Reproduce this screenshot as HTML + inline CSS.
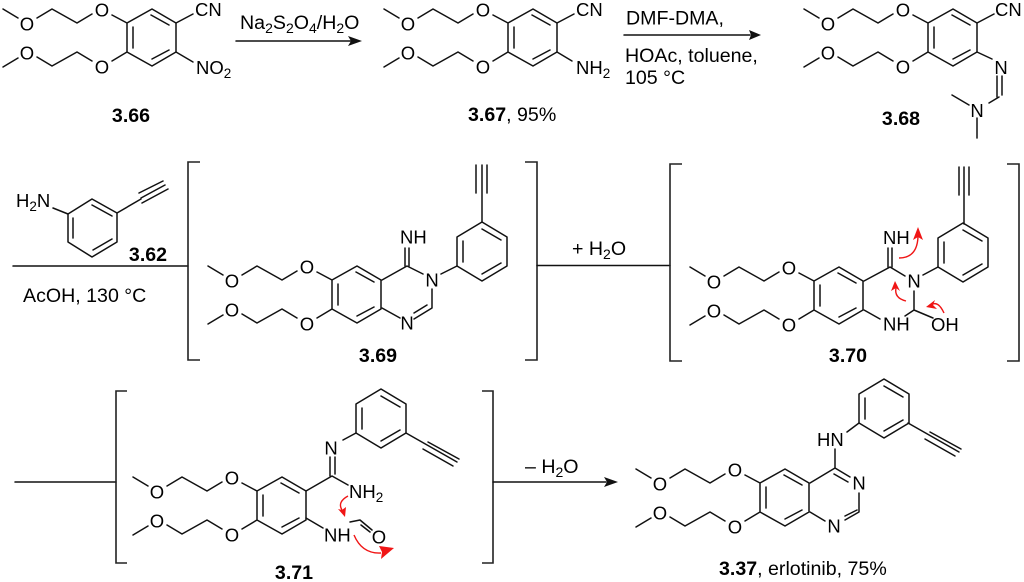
<!DOCTYPE html>
<html>
<head>
<meta charset="utf-8">
<style>
html,body{margin:0;padding:0;background:#fff;}
svg{display:block;}
text{font-family:"Liberation Sans",Arial,sans-serif;font-size:18.5px;fill:#000;}
.m{text-anchor:middle;}
.b{font-weight:bold;font-size:19.6px;}
.t{font-size:19.6px;}
.s{stroke:#111;stroke-width:1.5;fill:none;stroke-linecap:round;stroke-linejoin:round;}
.br{stroke:#222;stroke-width:1.6;fill:none;}
.r{stroke:#f01515;stroke-width:1.4;fill:none;}
</style>
</head>
<body>
<svg width="1024" height="582" viewBox="0 0 1024 582" xmlns="http://www.w3.org/2000/svg">
<defs>
<path id="core" d="M3,9L18,18M37,18L52,9L77,23L92,14M112,15L127,23L152,9L176,23L176,52L152,66L127,52L127,23M133,27L133,48M151,15L169,25M152,59L169,50M127,52L112,61M92,61L77,52L52,66L37,57M18,58L3,67"/>
<path id="ar" d="M0,0L0,-29L25,-44L50,-29L50,0L25,15ZM6,-4L6,-25M25,-37L44,-26M25,8L44,-3"/>
</defs>

<!-- 3.66 -->
<use href="#core" class="s"/>
<path class="s" d="M176,23L193,14M176,52L193,62"/>
<text class="m" x="102" y="16.5">O</text><text class="m" x="27" y="30.5">O</text>
<text class="m" x="102" y="73.5">O</text><text class="m" x="27" y="59.5">O</text>
<text x="195" y="16">CN</text>
<text x="196" y="74">NO<tspan font-size="13.5" dy="4">2</tspan></text>
<text class="m b" x="131" y="122">3.66</text>

<!-- arrow 1 -->
<path class="s" d="M236,41L352,41"/><path d="M362,41L348,36L351,41L348,46Z" fill="#111"/>
<text class="t" x="240" y="29">Na<tspan font-size="14" dy="4">2</tspan><tspan dy="-4">S</tspan><tspan font-size="14" dy="4">2</tspan><tspan dy="-4">O</tspan><tspan font-size="14" dy="4">4</tspan><tspan dy="-4">/H</tspan><tspan font-size="14" dy="4">2</tspan><tspan dy="-4">O</tspan></text>

<!-- 3.67 -->
<g transform="translate(381,0)">
<use href="#core" class="s"/>
<path class="s" d="M176,23L193,14M176,52L191,61"/>
<text class="m" x="102" y="16.5">O</text><text class="m" x="27" y="30.5">O</text>
<text class="m" x="102" y="73.5">O</text><text class="m" x="27" y="59.5">O</text>
<text x="195" y="16">CN</text>
<text x="195" y="74">NH<tspan font-size="13.5" dy="4">2</tspan></text>
</g>
<text x="468" y="121" class="t"><tspan font-weight="bold">3.67</tspan>, 95%</text>

<!-- arrow 2 -->
<path class="s" d="M624,35L750,35"/><path d="M761,35L749,30L751,35L749,40Z" fill="#111"/>
<text class="t" x="626" y="24.5">DMF-DMA,</text>
<text class="t" x="625" y="62">HOAc, toluene,</text>
<text class="t" x="625" y="84">105 °C</text>

<!-- 3.68 -->
<g transform="translate(801,0)">
<use href="#core" class="s"/>
<path class="s" d="M176,23L193,14M176,52L191,59M196,76L196,97M201,76L201,95M198,97L188,103M168,105L151,95M176,118L176,138"/>
<text class="m" x="102" y="16.5">O</text><text class="m" x="27" y="30.5">O</text>
<text class="m" x="102" y="73.5">O</text><text class="m" x="27" y="59.5">O</text>
<text x="194" y="16">CN</text>
<text class="m" x="200" y="74">N</text>
<text class="m" x="176" y="117">N</text>
</g>
<text class="m b" x="901" y="125">3.68</text>

<!-- 3.62 -->
<text x="16" y="207">H<tspan font-size="13.5" dy="4">2</tspan><tspan dy="-4">N</tspan></text>
<path class="s" d="M53,208L68,214M117,213L141,199M139,193L163,181M141,198L165,185M142,203L168,189"/>
<path class="s" d="M68,214L92,199L117,213L117,242L92,257L68,242ZM73,218L73,238M92,205L112,216M93,250L112,239"/>
<text class="m b" x="148" y="261">3.62</text>
<path class="s" d="M13,266L188,266"/>
<text class="t" x="23" y="302">AcOH, 130 °C</text>

<!-- bracket 1 -->
<path class="br" d="M200,162L188,162L188,360L200,360"/>
<path class="br" d="M525,162L537,162L537,360L525,360"/>

<!-- 3.69 -->
<g transform="translate(205,257)">
<use href="#core" class="s"/>
<text class="m" x="102" y="16.5">O</text><text class="m" x="27" y="30.5">O</text>
<text class="m" x="102" y="73.5">O</text><text class="m" x="27" y="59.5">O</text>
</g>
<path class="s" d="M382,280L407,266L423,274M405,266L405,248M409,266L409,248M432,289L432,308L414,319M427,305L414,313M382,308L400,318M441,274L457,266"/>
<g transform="translate(457,266)"><use href="#ar" class="s"/></g>
<path class="s" d="M482,222L482,193M482,193L482,165M476,193L476,165M487,193L487,165"/>
<text x="400" y="243.5">NH</text>
<text class="m" x="432" y="286.5">N</text>
<text class="m" x="407" y="329.5">N</text>
<text class="m b" x="378" y="362">3.69</text>

<!-- + H2O -->
<path class="s" d="M537,265.5L670,265.5"/>
<text class="t" x="572" y="255">+ H<tspan font-size="14" dy="4">2</tspan><tspan dy="-4">O</tspan></text>

<!-- bracket 2 -->
<path class="br" d="M682,164L670,164L670,361L682,361"/>
<path class="br" d="M1007,164L1019,164L1019,361L1007,361"/>

<!-- 3.70 -->
<g transform="translate(687,258)">
<use href="#core" class="s"/>
<text class="m" x="102" y="16.5">O</text><text class="m" x="27" y="30.5">O</text>
<text class="m" x="102" y="73.5">O</text><text class="m" x="27" y="59.5">O</text>
</g>
<path class="s" d="M864,281L890,267L905,276M888,267L888,248M892,267L892,248M914,291L914,310L905,316M933,318L914,310M864,310L880,319M923,275L938,267"/>
<g transform="translate(938,267)"><use href="#ar" class="s"/></g>
<path class="s" d="M964,224L964,195M964,195L964,167M959,195L959,167M969,195L969,167"/>
<text x="883" y="244">NH</text>
<text class="m" x="914" y="287.5">N</text>
<text x="883" y="330.5">NH</text>
<text x="931" y="331">OH</text>
<text class="m b" x="848" y="362">3.70</text>
<!-- red arrows 3.70 -->
<path class="r" d="M899,258Q917,258 918,237"/><path d="M918,227L913,240L918,237L923,240Z" fill="#f01515"/>
<path class="r" d="M906,301Q894,298 896,288"/><path d="M895,281L891,291L896,288L900,291Z" fill="#f01515"/>
<path class="r" d="M944,313Q938,300 931,305"/><path d="M926,307L935,300L933,305L937,309Z" fill="#f01515"/>

<!-- line to row 3 -->
<path class="s" d="M15,482L116,482"/>
<!-- bracket 3 -->
<path class="br" d="M127,391L116,391L116,563L127,563"/>
<path class="br" d="M482,391L493,391L493,563L482,563"/>

<!-- 3.71 -->
<g transform="translate(130,468)">
<use href="#core" class="s"/>
<text class="m" x="102" y="16.5">O</text><text class="m" x="27" y="30.5">O</text>
<text class="m" x="102" y="73.5">O</text><text class="m" x="27" y="59.5">O</text>
</g>
<path class="s" d="M306,491L332,476L348,485M330,476L330,457M335,474L335,457M343,440L356,433M306,518L323,528M350,522L360,520L372,530M361,525L370,532"/>
<g transform="translate(356,433)"><use href="#ar" class="s"/></g>
<path class="s" d="M406,433L457,462M428,442L459,459M423,449L453,466"/>
<text class="m" x="331" y="454.5">N</text>
<text x="349" y="498">NH<tspan font-size="13.5" dy="4">2</tspan></text>
<text x="324" y="541.5">NH</text>
<text class="m" x="379" y="543.5">O</text>
<text class="m b" x="294" y="579">3.71</text>
<!-- red arrows 3.71 -->
<path class="r" d="M348,496Q337,502 342,510"/><path d="M345,517L346,507L342,510L338,509Z" fill="#f01515"/>
<path class="r" d="M354,535Q362,554 381,553"/><path d="M394,548L379,546L382,552L381,559Z" fill="#f01515"/>

<!-- arrow 3 -->
<path class="s" d="M493,482L606,482"/><path d="M618,482L604,477L607,482L604,487Z" fill="#111"/>
<text class="t" x="525" y="473">– H<tspan font-size="14" dy="4">2</tspan><tspan dy="-4">O</tspan></text>

<!-- 3.37 -->
<g transform="translate(633,460)">
<use href="#core" class="s"/>
<text class="m" x="102" y="16.5">O</text><text class="m" x="27" y="30.5">O</text>
<text class="m" x="102" y="73.5">O</text><text class="m" x="27" y="59.5">O</text>
</g>
<path class="s" d="M810,483L835,468L850,477M834,474L848,482M859,493L859,512L845,520M857,510L845,516M810,512L825,521M835,449L835,468M847,432L859,423"/>
<g transform="translate(859,423)"><use href="#ar" class="s"/></g>
<path class="s" d="M908,423L959,452M930,432L961,449M925,439L955,456"/>
<text x="817" y="446">HN</text>
<text class="m" x="859" y="489.5">N</text>
<text class="m" x="834" y="532.5">N</text>
<text class="t" x="719" y="575"><tspan font-weight="bold">3.37</tspan>, erlotinib, 75%</text>
</svg>
</body>
</html>
